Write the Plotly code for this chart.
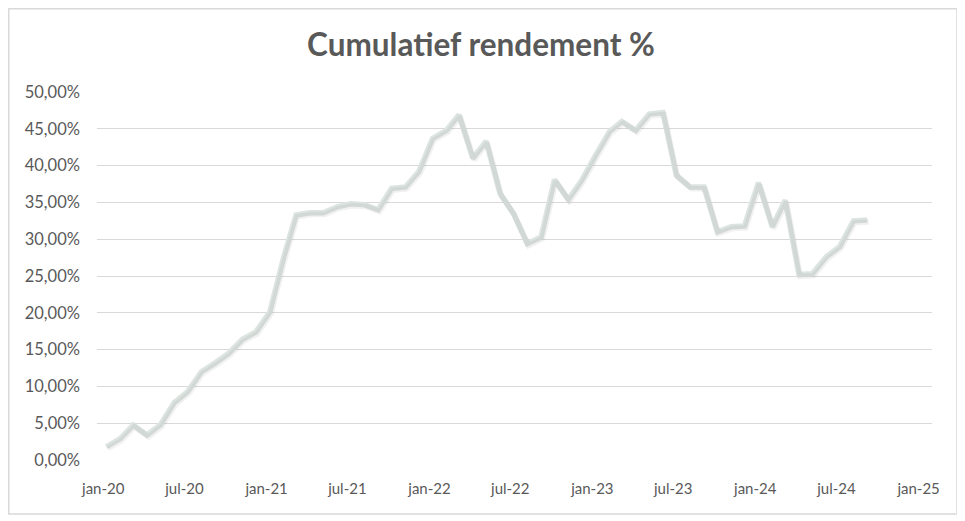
import pandas as pd
import plotly.graph_objects as go

# Monthly observations (Jan 2020 .. Sep 2024)
dates = [pd.Timestamp(2020, 1, 8) + pd.DateOffset(months=i) for i in range(57)]
returns_pct = [
    1.8, 2.9, 4.75, 3.4, 4.8, 7.8, 9.3, 12.0, 13.2, 14.5, 16.4, 17.4,
    20.1, 27.5, 33.3, 33.6, 33.6, 34.4, 34.8, 34.7, 34.0, 36.9, 37.1, 39.2,
    43.7, 44.8, 46.9, 41.0, 43.3, 36.2, 33.5, 29.4, 30.3, 38.1, 35.4, 38.0,
    41.4, 44.6, 46.0, 44.8, 47.0, 47.2, 38.7, 37.1, 37.1, 31.0, 31.7, 31.8,
    37.7, 31.7, 35.3, 25.2, 25.3, 27.6, 29.0, 32.5, 32.6,
]
values = [v / 100 for v in returns_pct]

tick_dates = ["2020-01-01", "2020-07-01", "2021-01-01", "2021-07-01", "2022-01-01",
              "2022-07-01", "2023-01-01", "2023-07-01", "2024-01-01", "2024-07-01",
              "2025-01-01"]
tick_labels = ["jan-20", "jul-20", "jan-21", "jul-21", "jan-22", "jul-22",
               "jan-23", "jul-23", "jan-24", "jul-24", "jan-25"]
y_ticks = [i * 0.05 for i in range(11)]

title_text = "Cumulatief rendement %"

FONT = "Lato, 'Open Sans', sans-serif"
TXT = "#595959"

# page body has an 8px margin -> figure coordinates are screen - 8
W, H = 950, 507
L, T = 89, 84
PW, PH = 835, 368
R = W - L - PW
B = H - T - PH

x0 = pd.Timestamp("2019-12-18")
x1 = pd.Timestamp("2025-01-31")
shift_days = pd.Timedelta(days=3.0)
dy = 0.0025

fig = go.Figure()
# soft shadow
fig.add_trace(go.Scatter(
    x=dates, y=values, mode="lines", xaxis="x2", yaxis="y2",
    line=dict(color="rgba(60,60,60,0.07)", width=5.5),
    hoverinfo="skip", showlegend=False,
))
fig.add_trace(go.Scatter(
    x=dates, y=values, mode="lines",
    line=dict(color="#dde5e1", width=5.5),
    showlegend=False,
))

fig.update_layout(
    width=W, height=H,
    margin=dict(l=L, r=R, t=T, b=B, pad=0),
    paper_bgcolor="white", plot_bgcolor="white",
    separators=",.",
    title=dict(text="<b>" + title_text + "</b>", x=(481 - 8) / W, xanchor="center",
               y=1 - 37 / H, yanchor="middle",
               font=dict(family=FONT, size=31.5, color=TXT)),
    xaxis=dict(range=[x0, x1], tickvals=tick_dates, ticktext=tick_labels,
               showgrid=False, zeroline=False, showline=False, ticks="",
               ticklabelstandoff=18,
               tickfont=dict(family=FONT, size=15, color=TXT)),
    yaxis=dict(range=[0, 0.5], tickvals=y_ticks, tickformat=".2%",
               showgrid=True, gridcolor="#d9d9d9", gridwidth=1.3,
               zeroline=False, showline=False, ticks="",
               ticklabelstandoff=16,
               tickfont=dict(family=FONT, size=16.5, color=TXT)),
    xaxis2=dict(range=[x0 - shift_days, x1 - shift_days], overlaying="x",
                visible=False),
    yaxis2=dict(range=[dy, 0.5 + dy], overlaying="y", visible=False),
    shapes=[dict(type="rect", xref="paper", yref="paper",
                 x0=(0.75 - L) / PW, x1=(949 - L) / PW,
                 y0=(T + PH - 506) / PH, y1=(T + PH - 0.75) / PH,
                 line=dict(color="#d9d9d9", width=1.5), fillcolor="rgba(0,0,0,0)",
                 layer="below")],
)

fig.write_html("out.html")
